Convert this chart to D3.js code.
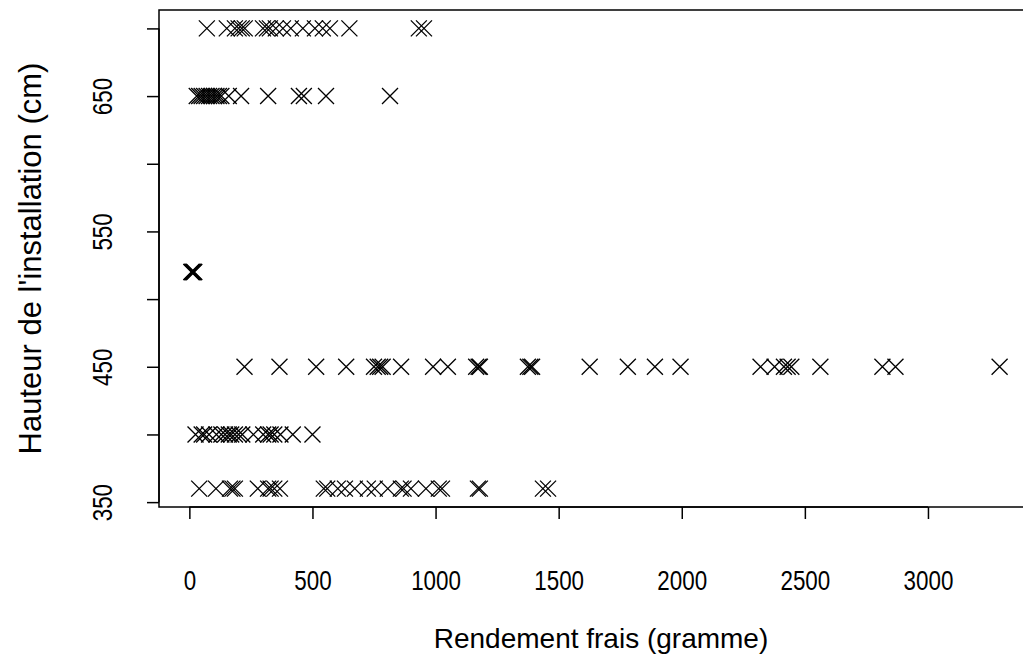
<!DOCTYPE html>
<html><head><meta charset="utf-8">
<script src="https://cdn.jsdelivr.net/npm/d3@7"></script>
<style>body{margin:0;background:#fff}svg{display:block}text{font-family:"Liberation Sans",Arial,sans-serif;fill:#000}</style>
</head><body>
<script>
// Data: x = Rendement frais (gramme), grouped by Hauteur de l'installation (cm)
const heights = [700, 650, 520, 450, 400, 360];
const yield700 = [71, 152, 185, 200, 213, 225, 299, 315, 327, 351, 380, 412, 461, 510, 542, 571, 650, 932, 953];
const yield650 = [30, 40, 50, 60, 70, 80, 90, 100, 110, 120, 130, 160, 210, 320, 445, 465, 555, 815];
const yield520 = [8, 10, 12, 14, 16, 18, 20];
const yield450 = [224, 366, 515, 637, 750, 765, 775, 785, 860, 990, 1050, 1165, 1175, 1180, 1375, 1385, 1392, 1626, 1781, 1891, 1995, 2320, 2377, 2415, 2430, 2445, 2563, 2815, 2868, 3291];
const yield400 = [25, 50, 60, 80, 110, 130, 145, 160, 170, 185, 200, 215, 260, 300, 320, 330, 345, 370, 420, 500];
const yield360 = [40, 108, 165, 175, 185, 278, 320, 330, 345, 368, 546, 560, 603, 632, 672, 725, 753, 806, 859, 870, 900, 961, 1013, 1026, 1172, 1180, 1436, 1457];
const xTicks = [0, 500, 1000, 1500, 2000, 2500, 3000];
const yTicks = [350, 400, 450, 500, 550, 600, 650, 700];
const yTickLabels = [350, 450, 550, 650];
const xTitle = "Rendement frais (gramme)";
const yTitle = "Hauteur de l'installation (cm)";

(function () {
const groups = [yield700, yield650, yield520, yield450, yield400, yield360];
const points = [];
groups.forEach((g, i) => g.forEach(v => points.push({x: v, y: heights[i]})));

const W = 1023, H = 666;
const svg = d3.select("body").append("svg").attr("width", W).attr("height", H);
const tickFont = '"Liberation Sans", Arial, sans-serif';
const narrow = 0.8; // tick labels are drawn in a narrow face

// R-style 4% expansion of data range
const xe = d3.extent(points, d => d.x), ye = d3.extent(points, d => d.y);
const xp = (xe[1] - xe[0]) * 0.04, yp = (ye[1] - ye[0]) * 0.04;
const mLeft = 159, mBottom = 507, mTop = 10;
const x = d3.scaleLinear().domain([xe[0] - xp, xe[1] + xp]).range([mLeft, mLeft + 0.2462 * (xe[1] - xe[0] + 2 * xp)]);
const y = d3.scaleLinear().domain([ye[0] - yp, ye[1] + yp]).range([mBottom, mTop]);

// box
svg.append("rect").attr("x", x.range()[0]).attr("y", mTop).attr("width", x.range()[1] - x.range()[0]).attr("height", mBottom - mTop)
  .attr("fill", "none").attr("stroke", "#000").attr("stroke-width", 1.5);

// x axis
const xg = svg.append("g").attr("transform", `translate(0,${mBottom})`)
  .call(d3.axisBottom(x).tickValues(xTicks).tickSize(12).tickSizeOuter(0).tickFormat(d3.format("d")));
xg.select(".domain").attr("d", `M${x(xTicks[0])},0H${x(xTicks[xTicks.length - 1])}`).attr("stroke-width", 1.5);
xg.selectAll(".tick line").attr("stroke-width", 1.5);
xg.selectAll(".tick text").attr("font-size", 28).attr("font-family", tickFont)
  .attr("y", 0).attr("dy", null).attr("transform", `translate(0,83) scale(${narrow},1)`);

// y axis
const yg = svg.append("g").attr("transform", `translate(${mLeft},0)`)
  .call(d3.axisLeft(y).tickValues(yTicks).tickSize(12).tickSizeOuter(0).tickFormat(d => yTickLabels.includes(d) ? d : ""));
yg.select(".domain").attr("d", `M0,${y(yTicks[0])}V${y(yTicks[yTicks.length - 1])}`).attr("stroke-width", 1.5);
yg.selectAll(".tick line").attr("stroke-width", 1.5);
yg.selectAll(".tick text").attr("font-size", 28).attr("font-family", tickFont)
  .attr("x", null).attr("dy", null).attr("y", 0).attr("text-anchor", "middle")
  .attr("transform", `translate(-47,0) rotate(-90) scale(${narrow},1)`);

// titles
svg.append("text").attr("x", 601).attr("y", 648).attr("text-anchor", "middle").attr("font-size", 28).text(xTitle);
svg.append("text").attr("transform", `translate(41,${(mTop + mBottom) / 2}) rotate(-90)`).attr("text-anchor", "middle").attr("font-size", 31).text(yTitle);

// points (pch = 4)
const s = 8;
svg.append("g").selectAll("path").data(points).join("path")
  .attr("d", d => `M${x(d.x) - s},${y(d.y) - s}L${x(d.x) + s},${y(d.y) + s}M${x(d.x) - s},${y(d.y) + s}L${x(d.x) + s},${y(d.y) - s}`)
  .attr("stroke", "#000").attr("stroke-width", 1.3).attr("fill", "none");
})();
</script>
</body></html>
